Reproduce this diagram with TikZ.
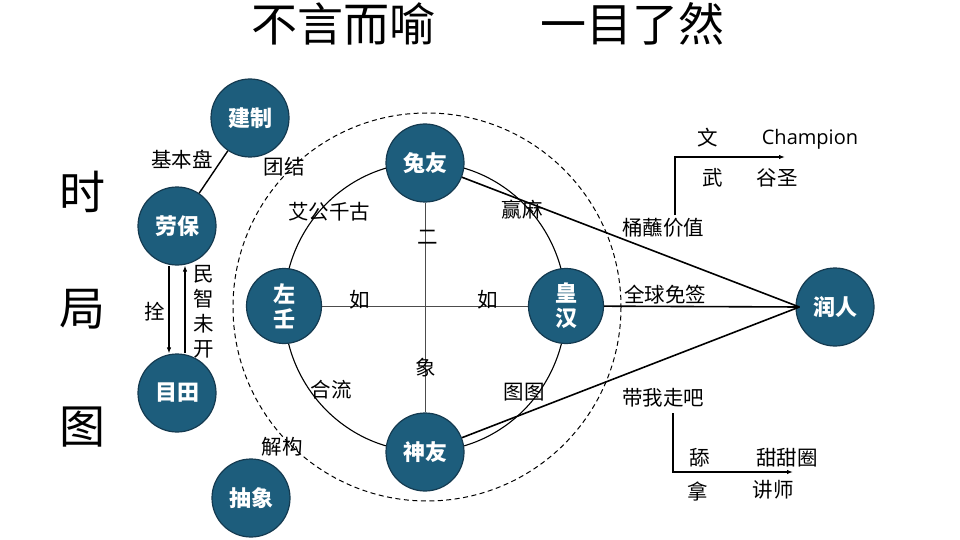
\documentclass[tikz,border=0pt]{standalone}
\usepackage{fontspec}
\setmainfont{Noto Sans CJK SC}
\newfontfamily\latinfont{Open Sans}
\usepackage{xcolor}
\usetikzlibrary{arrows.meta,backgrounds,calc}
\definecolor{nodeblue}{RGB}{29,93,124}
\definecolor{nodeedge}{RGB}{20,58,80}
\tikzset{
    circ/.style={draw=nodeedge, line width=1.2pt, fill=nodeblue, circle, inner sep=0pt, minimum size=78pt, text=white, font=\fontsize{22}{25}\selectfont\bfseries},
    lbl/.style={inner sep=1pt, font=\fontsize{20.5}{25}\selectfont},
    bigchar/.style={inner sep=0pt, font=\fontsize{46}{46}\selectfont},
    smalltip/.tip={Latex[length=6pt,width=4.5pt]}}

\begin{document}
\begin{tikzpicture}[x=1pt,y=-1pt]
\useasboundingbox (0,0) rectangle (960,540);
\node[bigchar] (t1) at (343,24) {不言而喻};
\node[bigchar] (t2) at (632,24) {一目了然};
\node[bigchar] (s1) at (82,192) {时};
\node[bigchar] (s2) at (82,309) {局};
\node[bigchar] (s3) at (82,427) {图};

\node[circ] (jianzhi) at (250,118) {建制};
\node[circ] (laobao) at (177,226) {劳保};
\node[circ] (mutian) at (177,393) {目田};
\node[circ] (chouxiang) at (251,498) {抽象};
\node[circ] (tuyou) at (425,163) {兔友};
\node[circ, align=center, minimum size=75pt] (zuoren) at (284,306) {左\\壬};
\node[circ, align=center, minimum size=75pt] (huanghan) at (566,306) {皇\\汉};
\node[circ] (shenyou) at (425,452) {神友};
\node[circ] (runren) at (835,307) {润人};

\begin{scope}[on background layer]
\draw[line width=1pt, dash pattern=on 5pt off 3.5pt] (427,307) circle[radius=194];
\draw[line width=1.1pt] (425,307) ellipse (141 and 144.5);
\draw[gray!60!black, line width=0.9pt] (tuyou) -- (shenyou);
\draw[gray!60!black, line width=0.9pt] (zuoren) -- (huanghan);
\end{scope}

\draw[line width=1.4pt] (jianzhi) -- (laobao);
\draw[-{smalltip}, line width=1.1pt] ([xshift=-8pt]laobao.south) -- ([xshift=-8pt]mutian.north);
\draw[-{smalltip}, line width=1.1pt] ([xshift=8pt]mutian.north) -- ([xshift=8pt]laobao.south);

\coordinate (hub) at ([xshift=4pt]runren.west);
\draw[line width=1.6pt] (tuyou) -- (hub);
\draw[line width=1.6pt] (huanghan) -- (hub);
\draw[line width=1.6pt] (shenyou) -- (hub);

\coordinate (w0) at (675,215);
\coordinate (w1) at (785,157);
\coordinate (n0) at (673,413);
\coordinate (n1) at (793,472);
\draw[-{smalltip}, line width=1.4pt] (w0) |- (w1);
\draw[-{smalltip}, line width=1.4pt] (n0) |- (n1);

\node[lbl] (jibenpan) at (182,160) {基本盘};
\node[lbl] (tuanjie) at (284,167) {团结};
\node[lbl] (shuan) at (155,312) {拴};
\node[lbl, align=center] (minzhi) at (204,312) {民\\智\\未\\开};
\node[lbl] (jiegou) at (282,447) {解构};
\node[lbl] (aigong) at (329,212) {艾公千古};
\node[lbl] (yingma) at (522,210) {赢麻};
\node[lbl] (er) at (428,237) {二};
\node[lbl] (ru1) at (360,300) {如};
\node[lbl] (ru2) at (488,300) {如};
\node[lbl] (xiang) at (426,368) {象};
\node[lbl] (heliu) at (331,390) {合流};
\node[lbl] (tutu) at (524,392) {图图};
\node[lbl] (tongzhan) at (663,228) {桶蘸价值};
\node[lbl] (mianqian) at (665,295) {全球免签};
\node[lbl] (daiwo) at (663,398) {带我走吧};
\node[lbl] (wen) at (708,138) {文};
\node[lbl, font=\fontsize{20}{24}\latinfont] (champ) at (810,139) {Champion};
\node[lbl] (wu) at (713,178) {武};
\node[lbl] (gusheng) at (777,178) {谷圣};
\node[lbl] (tian) at (700,458) {舔};
\node[lbl] (tiantian) at (787,458) {甜甜圈};
\node[lbl] (na) at (698,492) {拿};
\node[lbl] (jiangshi) at (773,490) {讲师};
\end{tikzpicture}
\end{document}
